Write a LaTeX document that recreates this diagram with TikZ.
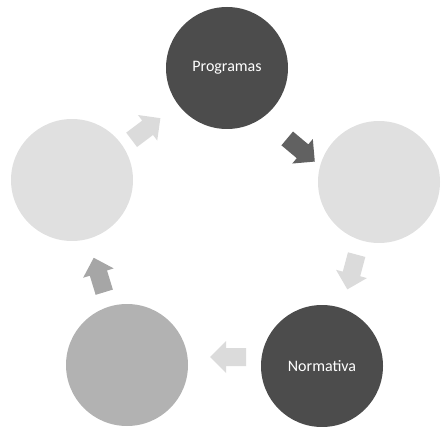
\documentclass[tikz,border=0pt]{standalone}
\usepackage{fontspec}
\setmainfont{Carlito}
\begin{document}
\begin{tikzpicture}[x=1pt,y=-1pt,
  stage/.style={circle,minimum size=122pt,inner sep=0pt,draw=none,align=center},
  darkstage/.style={stage,fill=black!70,text=white},
  lightstage/.style={stage,fill=black!12},
  midstage/.style={stage,fill=black!30},
  darkflow/.style={fill=black!62},
  lightflow/.style={fill=black!14},
  midflow/.style={fill=black!35}]
\useasboundingbox (0,0) rectangle (441,427);
\node[darkstage]  (prog) at (227,68) {\fontsize{16}{19}\selectfont Programas};
\node[lightstage] (right) at (379,182) {};
\node[darkstage]  (norm) at (322,366) {\fontsize{16}{19}\selectfont Normativa};
\node[midstage]   (bl) at (127,365) {};
\node[lightstage] (left) at (72,180) {};
\foreach \name/\px/\py/\ang/\sty in {a1/301/150/-40/darkflow, a2/352/272/-105/lightflow, a3/228/357/180/lightflow, a4/99/275/107/midflow, a5/146/129/37/lightflow}{
  \begin{scope}[shift={(\px,\py)},rotate=\ang]
    \coordinate (\name) at (0,0);
    \fill[\sty] (-18,-9) -- (2,-9) -- (2,-16) -- (18,0) -- (2,16) -- (2,9) -- (-18,9) -- cycle;
  \end{scope}
}
\end{tikzpicture}
\end{document}
